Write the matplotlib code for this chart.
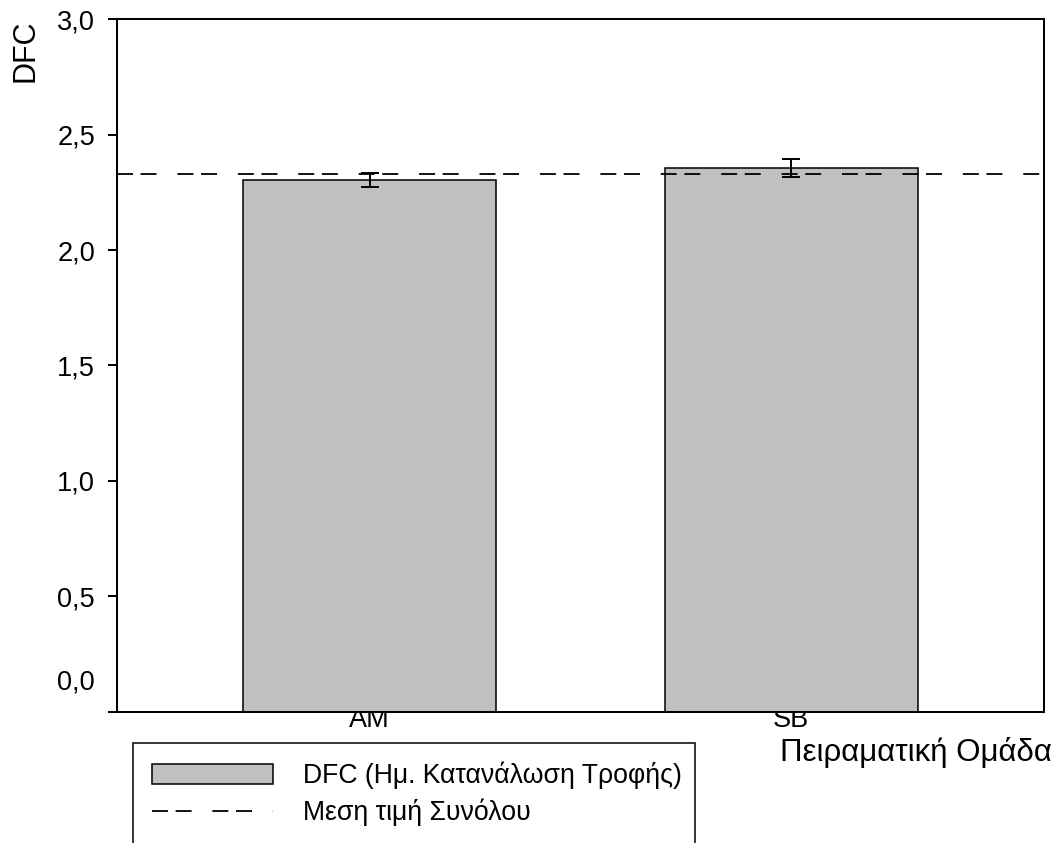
import matplotlib
matplotlib.use("Agg")
import matplotlib.pyplot as plt
from matplotlib.patches import Rectangle

# Daily feed consumption per experimental group
groups = ["AM", "SB"]
dfc_mean = [2.305, 2.356]
dfc_err = [0.030, 0.038]
overall_mean = 2.33

ytick_values = [0.0, 0.5, 1.0, 1.5, 2.0, 2.5, 3.0]
ytick_labels = ["0,0", "0,5", "1,0", "1,5", "2,0", "2,5", "3,0"]

legend_labels = ["DFC (Ημ. Κατανάλωση Τροφής)", "Μεση τιμή Συνόλου"]
x_title = "Πειραματική Ομάδα"
y_title = "DFC"

plt.rcParams["font.family"] = ["Liberation Sans", "DejaVu Sans"]
plt.rcParams["lines.scale_dashes"] = False

W, H, DPI = 1060, 843, 100
fig = plt.figure(figsize=(W / DPI, H / DPI), dpi=DPI)

left, right, top, bottom = 117, 1044, 19.3, 711.5
ax = fig.add_axes([left / W, 1 - bottom / H, (right - left) / W, (bottom - top) / H])

lw = 1.45
tick_fs = 19.5
x = list(range(len(groups)))
bars = ax.bar(x, dfc_mean, width=0.6, color="#c0c0c0", edgecolor="black",
              linewidth=1.1, zorder=2, label=legend_labels[0])
mean_line = ax.axhline(overall_mean, color="black", linewidth=1.3,
                       linestyle=(0, (11.5, 5.5, 11.5, 15)), zorder=3,
                       label=legend_labels[1])
ax.errorbar(x, dfc_mean, yerr=dfc_err, fmt="none", ecolor="black",
            elinewidth=1.4, capsize=6.8, capthick=1.4, zorder=4)

ax.set_xlim(-0.6, 1.6)
ax.set_ylim(0, 3.0)

ax.set_yticks(ytick_values)
ax.set_yticklabels([""] + ytick_labels[1:])
ax.set_xticks(x)
ax.set_xticklabels(groups)

ax.tick_params(axis="y", direction="out", length=6.5, width=lw, pad=9.4,
               labelsize=tick_fs)
ax.tick_params(axis="x", length=0, pad=-3.5, labelsize=tick_fs)
for s in ax.spines.values():
    s.set_linewidth(lw)

# the zero label sits a little above its tick
ax.annotate(ytick_labels[0], xy=(0, ytick_values[0]),
            xycoords=ax.get_yaxis_transform(), xytext=(-15.9, 21),
            textcoords="offset points", ha="right", va="center",
            fontsize=tick_fs)

ax.set_ylabel(y_title, fontsize=22, loc="top")
ax.yaxis.set_label_coords(-0.082, 1.0)

ax.set_xlabel(x_title, fontsize=22.5, loc="right")
ax.xaxis.label.set_va("center")
ax.xaxis.set_label_coords((1052 - left) / (right - left),
                          -(753 - bottom) / (bottom - top))

# legend box, running past the lower edge of the figure
fig.add_artist(Rectangle((133 / W, -0.1), (695 - 133) / W, 0.1 + 1 - 743 / H,
                         transform=fig.transFigure, fill=False,
                         edgecolor="black", linewidth=1.1, clip_on=False))
fig.legend(handles=[bars, mean_line], labels=legend_labels,
           loc="upper left", bbox_to_anchor=(133 / W, 1 - 743 / H),
           frameon=False, fontsize=19.2, borderaxespad=0, borderpad=0.71,
           handlelength=4.53, handleheight=0.75, handletextpad=1.12,
           labelspacing=0.35)

fig.savefig("out.png", dpi=DPI)
